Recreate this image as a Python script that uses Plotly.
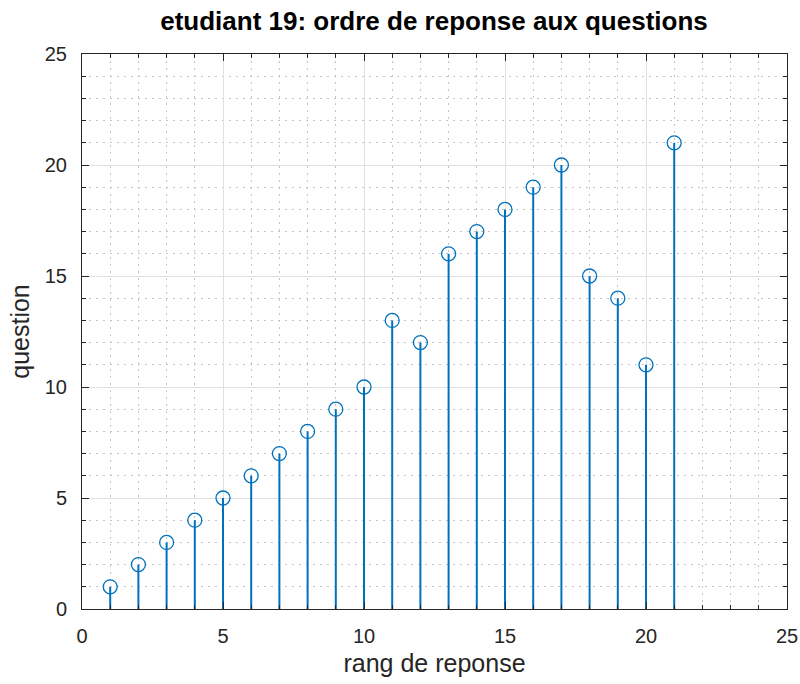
import plotly.graph_objects as go

# rang de reponse -> question
rang = list(range(1, 22))
question = [1, 2, 3, 4, 5, 6, 7, 8, 9, 10, 13, 12, 16, 17, 18, 19, 20, 15, 14, 11, 21]

blue = "#0072BD"
font = "Liberation Sans, Arial"

# stems: segments from 0 to each value, separated by None
stem_x, stem_y = [], []
for xv, yv in zip(rang, question):
    stem_x += [xv, xv, None]
    stem_y += [0, yv, None]

fig = go.Figure()
fig.add_trace(go.Scatter(x=stem_x, y=stem_y, mode="lines",
                         line=dict(color=blue, width=2), hoverinfo="skip"))
fig.add_trace(go.Scatter(x=rang, y=question, mode="markers",
                         marker=dict(symbol="circle-open", size=14,
                                     color=blue, line=dict(width=1.3, color=blue))))

axis_common = dict(
    showline=True, linecolor="#262626", linewidth=1, mirror="allticks",
    ticks="inside", ticklen=7, tickcolor="#262626",
    showgrid=True, gridcolor="#e0e0e0", gridwidth=1,
    zeroline=False, range=[0, 25], dtick=5, automargin=False,
    tickfont=dict(family=font, size=20, color="#262626"),
    minor=dict(dtick=1, showgrid=True, gridcolor="#c4c4c4", griddash="2px,5px",
               ticks="inside", ticklen=4, tickcolor="#262626"),
)

fig.update_layout(
    width=800, height=684,
    paper_bgcolor="white", plot_bgcolor="white",
    showlegend=False,
    margin=dict(l=82, r=13, t=54, b=75),
    title=dict(text="<b>etudiant 19: ordre de reponse aux questions</b>",
               x=0.5425, xanchor="center", y=0.970, yanchor="middle",
               font=dict(family=font, size=26, color="black")),
    xaxis=dict(axis_common, ticklabelstandoff=9,
               title=dict(text="rang de reponse", standoff=8,
                          font=dict(family=font, size=25, color="#262626"))),
    yaxis=dict(axis_common, ticklabelstandoff=10,
               title=dict(text="question", standoff=8,
                          font=dict(family=font, size=25, color="#262626"))),
)

# drop the default body margin so the figure fills the window
fig.write_html("out.html", config={"displayModeBar": False},
               post_script="document.body.style.margin='0';")
